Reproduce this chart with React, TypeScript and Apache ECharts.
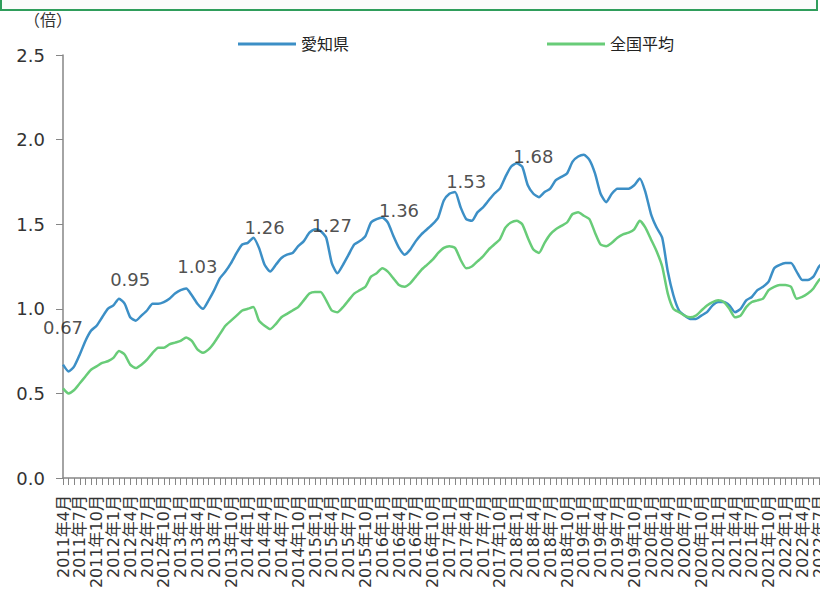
import React, { useEffect, useRef } from "react";
import * as echarts from "echarts";

// months from 2011年4月 to 2022年8月
const startYear = 2011;
const startMonth = 4;
const monthCount = 137;
const months: string[] = [];
for (let k = 0; k < monthCount; k++) {
  const t = startMonth - 1 + k;
  months.push(`${startYear + Math.floor(t / 12)}年${(t % 12) + 1}月`);
}

const aichi: number[] = [
  0.67, 0.63, 0.66, 0.73, 0.81, 0.87, 0.90, 0.95, 1.00, 1.02, 1.06, 1.03,
  0.95, 0.93, 0.96, 0.99, 1.03, 1.03, 1.04, 1.06, 1.09, 1.11, 1.12, 1.08,
  1.03, 1.00, 1.05, 1.11, 1.18, 1.22, 1.27, 1.33, 1.38, 1.39, 1.42, 1.36,
  1.26, 1.22, 1.26, 1.30, 1.32, 1.33, 1.37, 1.40, 1.45, 1.47, 1.46, 1.42,
  1.27, 1.21, 1.26, 1.32, 1.38, 1.40, 1.43, 1.51, 1.53, 1.54, 1.51, 1.43,
  1.36, 1.32, 1.35, 1.40, 1.44, 1.47, 1.50, 1.54, 1.64, 1.68, 1.69, 1.60,
  1.53, 1.52, 1.57, 1.60, 1.64, 1.68, 1.71, 1.78, 1.84, 1.86, 1.84, 1.73,
  1.68, 1.66, 1.69, 1.71, 1.76, 1.78, 1.80, 1.87, 1.90, 1.91, 1.88, 1.80,
  1.68, 1.63, 1.68, 1.71, 1.71, 1.71, 1.73, 1.77, 1.69, 1.56, 1.48, 1.42,
  1.22, 1.08, 0.99, 0.96, 0.94, 0.94, 0.96, 0.98, 1.02, 1.04, 1.04, 1.02,
  0.98, 1.00, 1.05, 1.07, 1.11, 1.13, 1.16, 1.24, 1.26, 1.27, 1.27, 1.22,
  1.17, 1.17, 1.19, 1.25, 1.28,
];

const national: number[] = [
  0.53, 0.50, 0.52, 0.56, 0.60, 0.64, 0.66, 0.68, 0.69, 0.71, 0.75, 0.73,
  0.67, 0.65, 0.67, 0.70, 0.74, 0.77, 0.77, 0.79, 0.80, 0.81, 0.83, 0.81,
  0.76, 0.74, 0.76, 0.80, 0.85, 0.90, 0.93, 0.96, 0.99, 1.00, 1.01, 0.93,
  0.90, 0.88, 0.91, 0.95, 0.97, 0.99, 1.01, 1.05, 1.09, 1.10, 1.10, 1.05,
  0.99, 0.98, 1.01, 1.05, 1.09, 1.11, 1.13, 1.19, 1.21, 1.24, 1.22, 1.18,
  1.14, 1.13, 1.15, 1.19, 1.23, 1.26, 1.29, 1.33, 1.36, 1.37, 1.36, 1.29,
  1.24, 1.25, 1.28, 1.31, 1.35, 1.38, 1.41, 1.48, 1.51, 1.52, 1.50, 1.42,
  1.35, 1.33, 1.39, 1.44, 1.47, 1.49, 1.51, 1.56, 1.57, 1.55, 1.53, 1.45,
  1.38, 1.37, 1.39, 1.42, 1.44, 1.45, 1.47, 1.52, 1.48, 1.41, 1.34, 1.25,
  1.09, 1.00, 0.98, 0.96, 0.95, 0.96, 0.99, 1.02, 1.04, 1.05, 1.04, 1.00,
  0.95, 0.96, 1.01, 1.04, 1.05, 1.06, 1.11, 1.13, 1.14, 1.14, 1.13, 1.06,
  1.07, 1.09, 1.12, 1.17, 1.19,
];

// April of each year gets a value label on the 愛知県 line
const labelledIdx: number[] = [0, 12, 24, 36, 48, 60, 72, 84];

const seriesNames = ["愛知県", "全国平均"];
const yTicks = { min: 0, max: 2.5, interval: 0.5 };
const unitLabel = "（倍）";

const FONT = "'DejaVu Sans', 'Noto Sans CJK JP', sans-serif";
const BLUE = "#3c8fc6";
const GREEN = "#68cc78";
const AXIS = "#868686";

export default function App() {
  const ref = useRef<HTMLDivElement>(null);
  useEffect(() => {
    if (!ref.current) return;
    const chart = echarts.init(ref.current, undefined, { renderer: "svg" });
    const perMonth = 5.6;
    chart.setOption({
      animation: false,
      textStyle: { fontFamily: FONT },
      graphic: [
        {
          type: "rect",
          shape: { x: 1, y: -20, width: 816, height: 30 },
          style: { fill: "#fbfbfb", stroke: "#2f9d5b", lineWidth: 2 },
        },
        {
          type: "text",
          x: 24,
          y: 12,
          style: { text: unitLabel, font: `16px ${FONT}`, fill: "#333" },
        },
      ],
      legend: {
        data: seriesNames,
        left: 233,
        top: 31,
        itemWidth: 58,
        itemHeight: 3,
        itemGap: 198,
        icon: "rect",
        textStyle: { fontSize: 16, color: "#222", fontFamily: FONT },
      },
      grid: {
        left: 63,
        top: 55,
        width: perMonth * (monthCount - 1),
        height: 423,
        containLabel: false,
      },
      xAxis: {
        type: "category",
        data: months,
        boundaryGap: false,
        axisLine: { lineStyle: { color: AXIS, width: 1.5 } },
        axisTick: { interval: 0, length: 7, lineStyle: { color: AXIS } },
        axisLabel: {
          interval: 2,
          rotate: 90,
          margin: 17,
          fontSize: 16,
          color: "#333",
          fontFamily: FONT,
        },
      },
      yAxis: {
        type: "value",
        min: yTicks.min,
        max: yTicks.max,
        interval: yTicks.interval,
        splitLine: { show: false },
        axisLine: { show: true, lineStyle: { color: AXIS, width: 1.5 } },
        axisTick: { show: true, length: 7, lineStyle: { color: AXIS } },
        axisLabel: {
          formatter: (v: number) => v.toFixed(1),
          fontSize: 18,
          margin: 18,
          color: "#333",
          fontFamily: FONT,
        },
      },
      series: [
        {
          name: seriesNames[0],
          type: "line",
          data: aichi,
          showSymbol: false,
          symbol: "none",
          smooth: 0.2,
          lineStyle: { color: BLUE, width: 2.5 },
          itemStyle: { color: BLUE },
          z: 2,
        },
        {
          name: seriesNames[1],
          type: "line",
          data: national,
          showSymbol: false,
          symbol: "none",
          smooth: 0.2,
          lineStyle: { color: GREEN, width: 2.5 },
          itemStyle: { color: GREEN },
          z: 3,
        },
        {
          name: "labels",
          type: "scatter",
          data: labelledIdx.map((i) => [i, aichi[i]]),
          symbolSize: 1,
          itemStyle: { color: "rgba(0,0,0,0)" },
          label: {
            show: true,
            position: "top",
            distance: 28,
            fontSize: 18,
            color: "#222",
            fontFamily: FONT,
            formatter: (p: any) => p.value[1].toFixed(2),
          },
          z: 5,
          silent: true,
        },
      ],
    });
    return () => chart.dispose();
  }, []);

  return (
    <div
      style={{
        position: "fixed",
        left: 0,
        top: 0,
        width: 820,
        height: 605,
        overflow: "hidden",
        background: "#fff",
      }}
    >
      <div ref={ref} style={{ width: 900, height: 605 }} />
    </div>
  );
}
